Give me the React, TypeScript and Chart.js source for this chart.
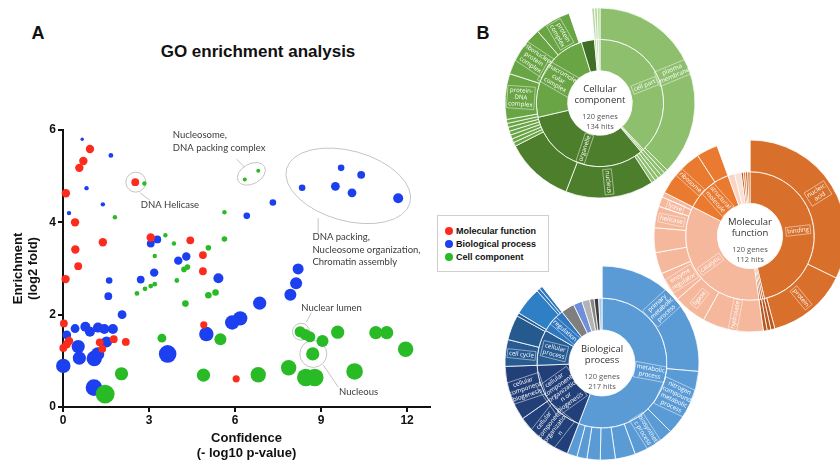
import React, { useEffect, useRef } from 'react';
import { Chart, registerables } from 'chart.js';

Chart.register(...registerables);

const AXIS_FONT = '"Liberation Sans", Arial, sans-serif';
const NOTE_FONT = 'Lato, "Open Sans", sans-serif';
const SUN_FONT = '"Open Sans", sans-serif';

const RED = '#fb2c1d';
const BLUE = '#1c3ff0';
const GREEN = '#28bb26';

// [confidence (-log10 p-value), enrichment (log2 fold), bubble radius]
const molecularFunction: number[][] = [
  [0.94, 5.59, 4.2], [0.71, 5.33, 4.2], [0.57, 5.18, 4.2], [2.52, 4.87, 3.9], [0.1, 4.63, 4.2],
  [0.42, 4.0, 4.2], [3.06, 3.67, 4.2], [4.44, 3.61, 3.9], [1.39, 3.57, 4.2], [0.43, 3.41, 4.2],
  [4.88, 3.29, 3.9], [0.53, 3.05, 3.9], [4.88, 2.94, 3.9], [0.09, 2.77, 4.2], [0.03, 1.81, 3.9],
  [0.21, 1.43, 4.2], [0.13, 1.36, 4.2], [0.01, 1.28, 3.9], [1.28, 1.4, 3.9], [1.37, 1.26, 3.9],
  [1.77, 1.47, 3.9], [2.19, 1.41, 3.9], [4.91, 1.78, 3.6], [6.04, 0.61, 3.6],
];
const biologicalProcess: number[][] = [
  [0.67, 5.8, 1.7], [1.67, 5.45, 2.4], [0.82, 4.74, 2.2], [1.39, 4.39, 2.2], [0.21, 4.2, 2.2],
  [3.06, 3.54, 3.9], [3.29, 3.63, 3.9], [4.3, 3.26, 4.2], [4.02, 3.17, 4.2], [3.18, 2.91, 4.2],
  [5.42, 2.79, 5], [1.61, 2.74, 3.3], [2.71, 2.76, 3.9], [1.58, 2.4, 3.9], [2.06, 2.0, 4.4],
  [0.42, 1.7, 4.4], [0.78, 1.74, 5], [0.94, 1.63, 5], [1.22, 1.72, 5], [1.44, 1.69, 5],
  [1.74, 1.69, 5], [0.13, 1.56, 4.4], [0.53, 1.31, 6.6], [0.57, 1.06, 6.6], [1.09, 1.05, 7.7],
  [1.21, 1.15, 6.6], [1.52, 1.41, 5.5], [0.01, 0.89, 7.2], [1.08, 0.42, 8.3], [3.65, 1.15, 8.8],
  [5.0, 1.58, 7.2], [8.2, 2.99, 5.5], [8.13, 2.68, 6], [7.93, 2.43, 6], [6.86, 2.25, 6.6],
  [6.18, 1.92, 7.2], [5.9, 1.83, 7.2], [9.7, 5.18, 3.3], [10.4, 5.03, 3.9], [8.34, 4.75, 3.3],
  [9.5, 4.78, 4.4], [10.08, 4.64, 4.4], [11.69, 4.52, 5], [7.32, 4.43, 3.3], [6.41, 4.14, 3.3],
];
const cellComponent: number[][] = [
  [2.84, 4.84, 2.2], [1.81, 4.11, 2.2], [3.57, 3.72, 2.2], [3.87, 3.54, 2.2], [5.07, 3.45, 2.8],
  [3.2, 3.27, 2.2], [4.34, 3.03, 2.8], [4.22, 2.98, 2.8], [3.2, 2.66, 2.4], [3.06, 2.62, 2.4],
  [2.86, 2.56, 2.4], [2.58, 2.46, 2.4], [3.97, 2.74, 2.4], [5.07, 2.42, 3.3], [5.32, 2.48, 3.3],
  [4.27, 2.24, 3.3], [6.81, 5.12, 2], [6.34, 4.93, 2], [5.63, 4.22, 2.2], [5.63, 3.64, 2.8],
  [3.45, 1.49, 4.4], [5.49, 1.47, 6], [4.9, 0.69, 6.6], [2.04, 0.72, 6.6], [1.47, 0.28, 9.4],
  [8.27, 1.63, 5.5], [8.45, 1.57, 5.5], [8.61, 1.52, 5.5], [9.05, 1.43, 6], [9.58, 1.62, 6.6],
  [10.91, 1.61, 6.6], [11.29, 1.61, 6.6], [11.95, 1.25, 7.7], [8.71, 1.15, 6.6], [6.81, 0.7, 7.7],
  [7.87, 0.85, 7.7], [8.47, 0.64, 8.8], [8.78, 0.64, 8.8], [10.17, 0.77, 8.3],
];

const xTicks = [0, 3, 6, 9, 12];
const yTicks = [0, 2, 4, 6];
const legendItems = ['Molecular function', 'Biological process', 'Cell component'];

// annotations (anchored in data coordinates)
const noteEllipses = [
  { cx: 2.54, cy: 4.87, rx: 10, ry: 10, rot: 0 },
  { cx: 6.57, cy: 5.05, rx: 15, ry: 10, rot: -0.5 },
  { cx: 9.95, cy: 4.79, rx: 64, ry: 35, rot: 0.27 },
  { cx: 8.3, cy: 1.63, rx: 8.5, ry: 8.5, rot: 0 },
  { cx: 8.73, cy: 1.15, rx: 13.5, ry: 13.5, rot: 0 },
];
const noteLeaders = [
  [2.68, 4.64, 3.03, 4.48],
  [6.05, 5.37, 6.33, 5.2],
  [8.9, 4.09, 8.9, 3.76],
  [8.49, 1.84, 8.66, 2.04],
  [9.08, 0.91, 9.6, 0.43],
];
const noteTexts = [
  { x: 2.71, y: 4.375, lines: ['DNA Helicase'] },
  { x: 3.83, y: 5.89, lines: ['Nucleosome,', 'DNA packing complex'] },
  { x: 8.7, y: 3.68, lines: ['DNA packing,', 'Nucleosome organization,', 'Chromatin assembly'] },
  { x: 8.31, y: 2.14, lines: ['Nuclear lumen'] },
  { x: 9.63, y: 0.32, lines: ['Nucleous'] },
];

// ---- Sunburst data (segment sizes in degrees, clockwise from 12 o'clock) ----
const G_L = '#8dbf6d', G_M = '#69a544', G_D = '#4c7e2c', G_DD = '#3f6f24', G_P = '#b5d7a0';
const ccInnerValues = [137, 1.5, 1.5, 117, 86, 12, 1.7, 1.7, 1.6];
const ccInnerColors = [G_L, G_L, G_L, G_D, G_M, G_DD, G_P, G_P, G_P];
const ccInnerNames = ['cell part', '', '', 'organelle', 'macromole\ncular\ncomplex', '', '', '', ''];
const ccOuterValues = [135, 2.4, 2.4, 2.4, 2.4, 2.4, 54, 42, 2.4, 2.4, 2.5, 2.4, 2.5, 2.4, 2.4, 28, 31, 22, 14, 1.7, 1.7, 1.6];
const ccOuterColors = [G_L, G_L, G_L, G_L, G_L, G_L, G_D, G_D, G_M, G_M, G_M, G_M, G_M, G_M, G_M, G_M, G_M, G_M, 'rgba(0,0,0,0)', G_P, G_P, G_P];
const ccOuterNames = ['plasma\nmembrane', '', '', '', '', '', 'nucleus', '', '', '', '', '', '', '', '', 'protein-\nDNA\ncomplex', 'ribonucleo\nprotein\ncomplex', 'protein\ncomplex', '', '', '', ''];

const O_D = '#d8702c', O_B = '#b9561b', O_S = '#f5b89c', O_O = '#e97a30', O_P = '#f9d3c3';
const mfInnerValues = [167, 1.7, 1.7, 1.6, 125, 43, 6, 6, 2, 2, 2, 2];
const mfInnerColors = [O_D, O_B, O_B, O_B, O_S, O_O, O_P, '#fbe0d4', O_B, O_O, O_B, O_D];
const mfInnerNames = ['binding', '', '', '', 'catalytic', 'structural\nmolecule', '', '', '', '', '', ''];
const mfOuterValues = [116, 49, 2.4, 2.3, 2.3, 37, 20, 18, 13, 15, 13, 6, 3, 30, 13, 20];
const mfOuterColors = [O_D, O_D, O_B, O_B, O_B, O_S, O_S, O_S, O_S, O_S, O_S, O_S, O_S, O_O, O_O, 'rgba(0,0,0,0)'];
const mfOuterNames = ['nucleic\nacid', 'protein', '', '', '', 'hydrolase', 'ligase', 'enzyme\nregulator', '', '', 'helicase', 'lyase', '', 'ribosome', '', ''];

const B_L = '#5b9bd5', B_N = '#213f78', B_M = '#275b91', B_R = '#2f78c0';
const bpInnerValues = [201, 67, 32, 22, 12, 8, 7, 4, 4, 3];
const bpInnerColors = [B_L, B_N, B_M, B_R, '#7f7f7f', '#6f8fda', '#b3b3b3', '#858585', '#3b3b3b', '#a9c8ea'];
const bpInnerNames = ['metabolic\nprocess', 'cellular\ncomponent\norganizatio\nn or\nbiogenesis', 'cellular\nprocess', 'regulation', '', '', '', '', '', ''];
const bpOuterValues = [95, 40, 25, 12, 9, 8, 6, 6, 34, 33, 16, 15, 2, 17, 2, 2, 38];
const bpOuterColors = [B_L, B_L, B_L, B_L, B_L, B_L, B_L, B_L, B_N, '#233f77', B_M, '#245a8e', B_M, '#2f7fc6', B_R, B_R, 'rgba(0,0,0,0)'];
const bpOuterNames = ['primary\nmetabolic\nprocess', 'nitrogen\ncompound\nmetabolic\nprocess', 'biosyntheti\nc process', '', '', '', '', '', 'cellular\ncomponent\norganizatio\nn', 'cellular\ncomponent\nbiogenesis', 'cell cycle', '', '', '', '', '', ''];

const toBubbles = (rows: number[][]) => rows.map(([x, y, r]) => ({ x, y, r }));

const annotationPlugin = {
  id: 'goNotes',
  beforeDatasetsDraw(chart: any) {
    const { ctx, scales: { x, y } } = chart;
    ctx.save();
    ctx.strokeStyle = '#c4c4c4';
    ctx.lineWidth = 1;
    for (const e of noteEllipses) {
      ctx.beginPath();
      ctx.ellipse(x.getPixelForValue(e.cx), y.getPixelForValue(e.cy), e.rx, e.ry, e.rot, 0, Math.PI * 2);
      ctx.stroke();
    }
    for (const [x1, y1, x2, y2] of noteLeaders) {
      ctx.beginPath();
      ctx.moveTo(x.getPixelForValue(x1), y.getPixelForValue(y1));
      ctx.lineTo(x.getPixelForValue(x2), y.getPixelForValue(y2));
      ctx.stroke();
    }
    ctx.restore();
  },
  afterDraw(chart: any) {
    const { ctx, scales: { x, y } } = chart;
    ctx.save();
    ctx.fillStyle = '#3a3a3a';
    ctx.font = `9.5px ${NOTE_FONT}`;
    ctx.textAlign = 'left';
    ctx.textBaseline = 'middle';
    for (const t of noteTexts) {
      const px = x.getPixelForValue(t.x);
      const py = y.getPixelForValue(t.y);
      t.lines.forEach((s, i) => ctx.fillText(s, px, py + i * 12.6));
    }
    ctx.restore();
  },
};

const sunburstPlugin = {
  id: 'sunLabels',
  afterDatasetsDraw(chart: any) {
    const { ctx } = chart;
    ctx.save();
    ctx.font = `6.2px ${SUN_FONT}`;
    ctx.textAlign = 'center';
    ctx.textBaseline = 'middle';
    chart.data.datasets.forEach((ds: any, di: number) => {
      const meta = chart.getDatasetMeta(di);
      meta.data.forEach((arc: any, i: number) => {
        const name = ds.names && ds.names[i];
        if (!name) return;
        const a = (arc.startAngle + arc.endAngle) / 2;
        const r = (arc.innerRadius + arc.outerRadius) / 2;
        ctx.save();
        ctx.translate(arc.x + Math.cos(a) * r, arc.y + Math.sin(a) * r);
        let rot = a;
        if (Math.cos(a) < -0.02) rot += Math.PI;
        ctx.rotate(rot);
        const lines = name.split('\n');
        const lh = 6.8;
        const w = Math.max(...lines.map((s: string) => ctx.measureText(s).width)) + 3;
        const h = lines.length * lh + 2;
        ctx.strokeStyle = 'rgba(255,255,255,0.75)';
        ctx.lineWidth = 0.6;
        ctx.strokeRect(-w / 2, -h / 2, w, h);
        ctx.fillStyle = '#ffffff';
        lines.forEach((s: string, k: number) => ctx.fillText(s, 0, -((lines.length - 1) * lh) / 2 + k * lh));
        ctx.restore();
      });
    });
    const c = chart.getDatasetMeta(0).data[0];
    const center = chart.options.plugins.sunCenter;
    ctx.fillStyle = '#333';
    ctx.font = `9.5px ${SUN_FONT}`;
    ctx.fillText(center.title[0], c.x, c.y - 14);
    ctx.fillText(center.title[1], c.x, c.y - 3);
    ctx.fillStyle = '#555';
    ctx.font = `7.5px ${SUN_FONT}`;
    ctx.fillText(center.sub[0], c.x, c.y + 14);
    ctx.fillText(center.sub[1], c.x, c.y + 24);
    ctx.restore();
  },
};

function makeSunburst(canvas: HTMLCanvasElement, radius: number, outer: any, inner: any, title: string[], sub: string[]) {
  return new Chart(canvas, {
    type: 'doughnut',
    data: {
      datasets: [
        { data: outer.values, backgroundColor: outer.colors, borderColor: '#fff', borderWidth: 0.8, names: outer.names } as any,
        { data: inner.values, backgroundColor: inner.colors, borderColor: '#fff', borderWidth: 0.8, names: inner.names } as any,
      ],
    },
    options: {
      responsive: false,
      animation: false,
      radius,
      cutout: '34%',
      layout: { padding: 0 },
      plugins: { legend: { display: false }, tooltip: { enabled: false }, sunCenter: { title, sub } } as any,
    } as any,
    plugins: [sunburstPlugin],
  });
}

const axisTickFont = { family: AXIS_FONT, size: 12, weight: 'bold' as const };
const axisTitleFont = { family: AXIS_FONT, size: 13, weight: 'bold' as const, lineHeight: 1.15 };

export default function App() {
  const scatterRef = useRef<HTMLCanvasElement>(null);
  const ccRef = useRef<HTMLCanvasElement>(null);
  const mfRef = useRef<HTMLCanvasElement>(null);
  const bpRef = useRef<HTMLCanvasElement>(null);

  useEffect(() => {
    const charts: Chart[] = [];
    charts.push(
      new Chart(scatterRef.current!, {
        type: 'bubble',
        data: {
          datasets: [
            { label: legendItems[0], data: toBubbles(molecularFunction), backgroundColor: RED, borderWidth: 0, order: 0, clip: false } as any,
            { label: legendItems[1], data: toBubbles(biologicalProcess), backgroundColor: BLUE, borderWidth: 0, order: 2, clip: false } as any,
            { label: legendItems[2], data: toBubbles(cellComponent), backgroundColor: GREEN, borderWidth: 0, order: 1, clip: false } as any,
          ],
        },
        options: {
          responsive: false,
          animation: false,
          layout: { padding: { top: 30, right: 10, left: 0, bottom: 0 } },
          plugins: { legend: { display: false }, tooltip: { enabled: false } },
          scales: {
            x: {
              type: 'linear',
              min: 0,
              max: 12.8,
              offset: false,
              afterBuildTicks: (s: any) => { s.ticks = xTicks.map((v) => ({ value: v })); },
              afterFit: (s: any) => { s.height = 57; },
              grid: { drawOnChartArea: false, drawTicks: true, tickLength: 5, color: '#111', lineWidth: 2 },
              border: { color: '#111', width: 2 },
              ticks: { color: '#111', font: axisTickFont, padding: 1, maxRotation: 0 },
              title: { display: true, text: ['Confidence', '(- log10 p-value)'], color: '#111', font: axisTitleFont, padding: { top: 0, bottom: 3.5 } },
            },
            y: {
              type: 'linear',
              min: 0,
              max: 6,
              offset: false,
              afterBuildTicks: (s: any) => { s.ticks = yTicks.map((v) => ({ value: v })); },
              afterFit: (s: any) => { s.width = 63; },
              grid: { drawOnChartArea: false, drawTicks: true, tickLength: 5, color: '#111', lineWidth: 2 },
              border: { color: '#111', width: 2 },
              ticks: { color: '#111', font: axisTickFont, padding: 2 },
              title: { display: true, text: ['Enrichment', '(log2 fold)'], color: '#111', font: axisTitleFont, padding: { top: 10.5, bottom: 0 } },
            },
          },
        } as any,
        plugins: [annotationPlugin],
      })
    );
    charts.push(makeSunburst(ccRef.current!, 95,
      { values: ccOuterValues, colors: ccOuterColors, names: ccOuterNames },
      { values: ccInnerValues, colors: ccInnerColors, names: ccInnerNames },
      ['Cellular', 'component'], ['120 genes', '134 hits']));
    charts.push(makeSunburst(mfRef.current!, 96,
      { values: mfOuterValues, colors: mfOuterColors, names: mfOuterNames },
      { values: mfInnerValues, colors: mfInnerColors, names: mfInnerNames },
      ['Molecular', 'function'], ['120 genes', '112 hits']));
    charts.push(makeSunburst(bpRef.current!, 97,
      { values: bpOuterValues, colors: bpOuterColors, names: bpOuterNames },
      { values: bpInnerValues, colors: bpInnerColors, names: bpInnerNames },
      ['Biological', 'process'], ['120 genes', '217 hits']));
    return () => charts.forEach((c) => c.destroy());
  }, []);

  const abs = (x: number, y: number): React.CSSProperties => ({
    position: 'absolute', left: x, top: y, transform: 'translate(-50%, -50%)', whiteSpace: 'nowrap',
  });
  const legendColors = [RED, BLUE, GREEN];

  return (
    <div style={{ position: 'fixed', left: 0, top: 0, width: 840, height: 464, overflow: 'hidden', background: '#fff', fontFamily: AXIS_FONT }}>
      <canvas ref={scatterRef} width={440} height={364} style={{ position: 'absolute', left: 0, top: 100 }} />
      <canvas ref={ccRef} width={200} height={200} style={{ position: 'absolute', left: 500, top: 3 }} />
      <canvas ref={mfRef} width={200} height={200} style={{ position: 'absolute', left: 650, top: 136 }} />
      <canvas ref={bpRef} width={200} height={200} style={{ position: 'absolute', left: 502, top: 263 }} />
      <div style={{ ...abs(38, 33), fontSize: 18, fontWeight: 'bold', color: '#111' }}>A</div>
      <div style={{ ...abs(483, 33), fontSize: 18, fontWeight: 'bold', color: '#111' }}>B</div>
      <div style={{ ...abs(258, 52), fontSize: 17, fontWeight: 'bold', color: '#111' }}>GO enrichment analysis</div>
      <div style={{ position: 'absolute', left: 437, top: 215, width: 112, height: 57, border: '1px solid #cfcfcf', boxSizing: 'border-box', background: '#fff' }}>
        {legendItems.map((name, i) => (
          <div key={name} style={{ position: 'absolute', left: 7, top: 9 + i * 13, height: 12, display: 'flex', alignItems: 'center', whiteSpace: 'nowrap' }}>
            <span style={{ display: 'inline-block', width: 8, height: 8, borderRadius: '50%', background: legendColors[i], marginRight: 3 }} />
            <span style={{ fontSize: 9, fontWeight: 'bold', color: '#111' }}>{name}</span>
          </div>
        ))}
      </div>
    </div>
  );
}
